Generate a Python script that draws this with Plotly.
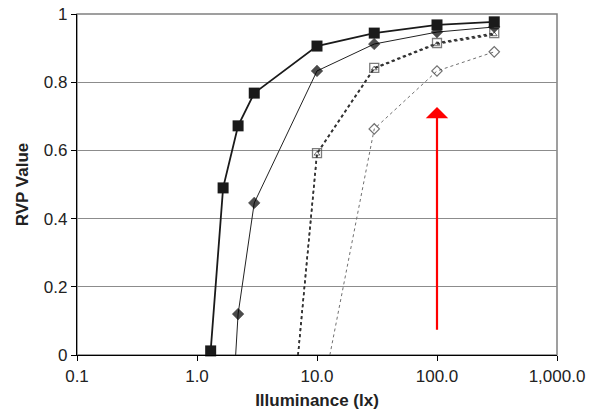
import math
import plotly.graph_objects as go

# Data
sq_x = [1.3, 1.65, 2.2, 3.0, 10, 30, 100, 300]
sq_y = [0.012, 0.49, 0.672, 0.768, 0.906, 0.944, 0.968, 0.977]

dia_x = [2.1, 2.2, 3.0, 10, 30, 100, 300]
dia_y = [0.0, 0.12, 0.446, 0.833, 0.912, 0.947, 0.962]

osq_x = [6.95, 10, 30, 100, 300]
osq_y = [0.0, 0.592, 0.842, 0.915, 0.944]

otri_x = [6.95, 10, 30, 100, 300]
otri_y = [0.0, 0.590, 0.840, 0.912, 0.940]

odia_x = [12.8, 30, 100, 300]
odia_y = [0.0, 0.663, 0.833, 0.889]

x_ticks = [0.1, 1, 10, 100, 1000]
x_tick_labels = ["0.1", "1.0", "10.0", "100.0", "1,000.0"]
y_ticks = [0, 0.2, 0.4, 0.6, 0.8, 1]
y_tick_labels = ["0", "0.2", "0.4", "0.6", "0.8", "1"]

arrow_x = 100
arrow_y0 = 0.07
arrow_y1 = 0.727

fig = go.Figure()

fig.add_trace(go.Scatter(
    x=odia_x, y=odia_y, mode="lines+markers",
    line=dict(color="#707070", width=1, dash="dot"),
    marker=dict(symbol="diamond-open", size=[0] + [8] * (len(odia_x) - 1),
                color="#333333", line=dict(width=1.2)),
    showlegend=False))

fig.add_trace(go.Scatter(
    x=otri_x, y=otri_y, mode="lines+markers",
    line=dict(color="#333333", width=1.6, dash="dot"),
    marker=dict(symbol="triangle-up-open", size=[0] + [5] * (len(otri_x) - 1),
                color="#333333", line=dict(width=1)),
    showlegend=False))

fig.add_trace(go.Scatter(
    x=osq_x, y=osq_y, mode="lines+markers",
    line=dict(color="#333333", width=1.6, dash="dot"),
    marker=dict(symbol="square-open", size=[0] + [9] * (len(osq_x) - 1),
                color="#444444", line=dict(width=1.3)),
    showlegend=False))

fig.add_trace(go.Scatter(
    x=dia_x, y=dia_y, mode="lines+markers",
    line=dict(color="#222222", width=1),
    marker=dict(symbol="diamond", size=[0] + [9] * (len(dia_x) - 1),
                color="#000000", line=dict(color="#000000", width=0.5)),
    showlegend=False))

fig.add_trace(go.Scatter(
    x=sq_x, y=sq_y, mode="lines+markers",
    line=dict(color="#1a1a1a", width=1.8),
    marker=dict(symbol="square", size=11, color="#1a1a1a"),
    showlegend=False, cliponaxis=False))

fig.add_annotation(
    x=math.log10(arrow_x), y=arrow_y1, ax=math.log10(arrow_x), ay=arrow_y0,
    xref="x", yref="y", axref="x", ayref="y",
    showarrow=True, arrowhead=1, arrowsize=1.7, arrowwidth=2.2,
    arrowcolor="#ff0000", text="")

fig.add_shape(type="rect", xref="x domain", yref="y domain",
              x0=0, x1=1, y0=0, y1=1,
              line=dict(color="#808080", width=1.5), layer="below")

font = "Liberation Sans, Arial, sans-serif"

fig.update_layout(
    width=589, height=410,
    margin=dict(l=77, r=32, t=14, b=55),
    paper_bgcolor="white", plot_bgcolor="white",
    font=dict(family=font, size=17, color="#222222"),
    xaxis=dict(
        type="log", range=[-1, 3], automargin=False,
        tickvals=x_ticks, ticktext=x_tick_labels,
        showgrid=False, zeroline=False,
        showline=True, linecolor="#000000", linewidth=1.2,
        ticks="outside", ticklen=5, tickcolor="#000000",
        tickfont=dict(size=17), ticklabeloverflow="allow",
        title=dict(text="<b>Illuminance (lx)</b>", font=dict(size=17), standoff=10),
    ),
    yaxis=dict(
        range=[0, 1], automargin=False,
        tickvals=y_ticks, ticktext=y_tick_labels,
        showgrid=True, gridcolor="#8c8c8c", gridwidth=1.3,
        zeroline=False,
        showline=True, linecolor="#000000", linewidth=1.2,
        ticks="outside", ticklen=5, tickcolor="#000000",
        tickfont=dict(size=17), ticklabeloverflow="allow",
        title=dict(text="<b>RVP Value</b>", font=dict(size=17), standoff=10),
    ),
)

fig.write_html(
    "out.html",
    config={"displayModeBar": False},
    post_script="document.body.style.margin='0';document.body.style.overflow='hidden';",
)
